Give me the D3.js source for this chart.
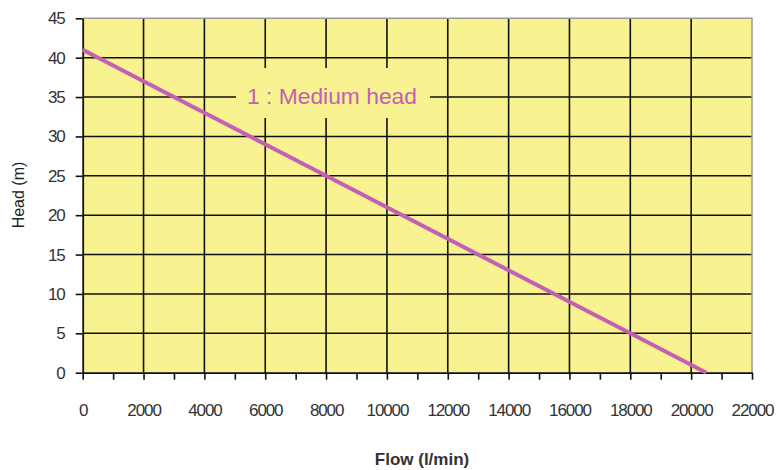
<!DOCTYPE html>
<html><head><meta charset="utf-8">
<script src="https://cdn.jsdelivr.net/npm/d3@7"></script>
<style>body{margin:0;background:#fff}svg{display:block}</style>
</head><body>
<div id="chart"></div>
<script>
const flowValues = [0, 8000, 18000, 20500];
const headValues = [41, 25, 5, 0];
const xTicks = [0,2000,4000,6000,8000,10000,12000,14000,16000,18000,20000,22000];
const xMinorTicks = [1000,3000,5000,7000,9000,11000,13000,15000,17000,19000,21000];
const yTicks = [0,5,10,15,20,25,30,35,40,45];
const seriesLabel = "1 : Medium head";
const xTitle = "Flow (l/min)";
const yTitle = "Head (m)";

const W = 777, H = 470;
const m = {left: 82.7, right: 25, top: 18.3, bottom: 97.3};
const svg = d3.select("#chart").append("svg").attr("width", W).attr("height", H);
const x = d3.scaleLinear().domain([0, 22000]).range([m.left, 752]);
const y = d3.scaleLinear().domain([0, 45]).range([372.7, m.top]);
const font = "'Liberation Sans', Arial, sans-serif";

svg.append("rect").attr("x", x(0)).attr("y", y(45)).attr("width", x(22000) - x(0)).attr("height", y(0) - y(45))
  .attr("fill", "#f8f291");

// grid
const g = svg.append("g");
g.selectAll(".vg").data(xTicks.filter(d => d > 0 && d < 22000)).join("line")
  .attr("x1", d => x(d)).attr("x2", d => x(d)).attr("y1", y(45)).attr("y2", y(0))
  .attr("stroke", "#111").attr("stroke-width", 1.6);
g.selectAll(".hg").data(yTicks.filter(d => d > 0 && d < 45)).join("line")
  .attr("x1", x(0)).attr("x2", x(22000)).attr("y1", d => y(d)).attr("y2", d => y(d))
  .attr("stroke", "#111").attr("stroke-width", 1.6);
// gray border top/right
svg.append("path").attr("d", `M${x(0)},${y(45)}H${x(22000)}V${y(0)}`).attr("fill", "none")
  .attr("stroke", "#999").attr("stroke-width", 1.5);

// label background
svg.append("rect").attr("x", 236).attr("y", 68).attr("width", 194).attr("height", 50).attr("fill", "#f8f291");

// axes
svg.append("g").attr("transform", `translate(${x(0)},0)`)
  .call(d3.axisLeft(y).tickValues(yTicks).tickSize(7).tickPadding(11).tickSizeOuter(0));
svg.append("g").attr("transform", `translate(0,${y(0)})`)
  .call(d3.axisBottom(x).tickValues(xTicks).tickFormat(d3.format("d")).tickSize(7).tickPadding(24).tickSizeOuter(0));
svg.append("g").attr("transform", `translate(0,${y(0)})`)
  .call(d3.axisBottom(x).tickValues(xMinorTicks).tickSize(7).tickFormat("").tickSizeOuter(0))
  .select(".domain").remove();
svg.selectAll(".tick line").attr("stroke", "#111").attr("stroke-width", 1.6);
svg.selectAll(".domain").attr("stroke", "#111").attr("stroke-width", 1.8);
svg.selectAll(".tick text").attr("font-family", font).attr("font-size", 17).attr("fill", "#333")
  .attr("letter-spacing", -1.1);

// line
const line = d3.line().x((d, i) => x(flowValues[i])).y(d => y(d));
svg.append("path").datum(headValues).attr("d", line).attr("fill", "none")
  .attr("stroke", "#c35fb5").attr("stroke-width", 4);

svg.append("text").attr("x", 332).attr("y", 103.5).attr("text-anchor", "middle")
  .attr("font-family", font).attr("font-size", 22).attr("fill", "#c35fb5")
  .attr("textLength", 170).attr("lengthAdjust", "spacingAndGlyphs").text(seriesLabel);

svg.append("text").attr("transform", `translate(24,195) rotate(-90)`).attr("text-anchor", "middle")
  .attr("font-family", font).attr("font-size", 16).attr("fill", "#222").text(yTitle);
svg.append("text").attr("x", 422).attr("y", 465).attr("text-anchor", "middle")
  .attr("font-family", font).attr("font-size", 17).attr("font-weight", "bold").attr("fill", "#333").text(xTitle);
</script>
</body></html>
